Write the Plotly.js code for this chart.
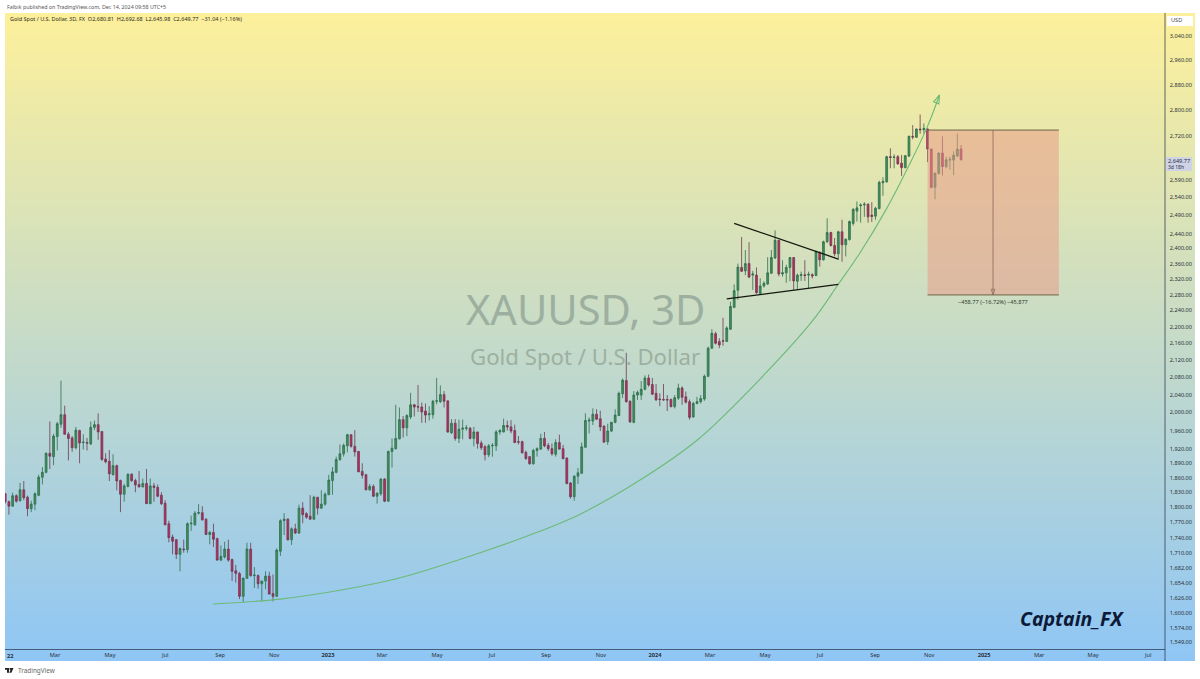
<!DOCTYPE html>
<html>
<head>
<meta charset="utf-8">
<script src="https://cdn.plot.ly/plotly-3.0.1.min.js"></script>
<style>
  html, body { margin: 0; padding: 0; background: #fff; }
</style>
</head>
<body>
<div id="chart" style="width:1200px;height:679px"></div>
<script>
// XAUUSD 3D candles, oldest first
const opens = [
1827,1811,1802,1823,1813,1835,1820,1797,1806,1824,
1861,1871,1911,1904,1947,1974,1995,1952,1944,1923,
1960,1934,1934,1931,1967,1973,1958,1899,1894,1866,
1885,1854,1826,1842,1867,1854,1846,1841,1848,1807,
1843,1840,1824,1808,1767,1741,1736,1708,1718,1717,
1767,1765,1788,1789,1776,1746,1750,1738,1697,1703,
1718,1698,1677,1672,1630,1663,1718,1668,1668,1653,
1658,1667,1635,1630,1714,1773,1776,1736,1757,1749,
1798,1787,1782,1776,1820,1798,1806,1825,1854,1871,
1898,1910,1927,1951,1926,1915,1873,1866,1835,1842,
1822,1827,1857,1812,1915,1921,1942,1984,1966,1990,
2017,2013,2012,2003,1995,1995,2025,2024,2040,2026,
1955,1976,1943,1963,1965,1965,1943,1957,1933,1925,
1908,1927,1927,1957,1957,1971,1968,1960,1936,1936,
1913,1904,1889,1917,1920,1943,1928,1921,1909,1934,
1921,1901,1849,1821,1863,1869,1924,1981,1981,1996,
1986,1970,1936,1959,1978,1993,2042,2072,2025,1978,
2039,2039,2052,2078,2063,2043,2030,2029,2029,2029,
2013,2032,2055,2035,2024,1990,2020,2024,2030,2082,
2148,2183,2164,2166,2164,2194,2248,2291,2350,2341,
2360,2330,2330,2283,2302,2307,2335,2375,2422,2333,
2336,2350,2376,2314,2329,2331,2330,2331,2329,2390,
2370,2418,2443,2408,2386,2445,2410,2424,2468,2502,
2517,2519,2521,2491,2488,2509,2582,2585,2658,2656,
2658,2639,2626,2660,2719,2716,2741,2739,2741,2681,
2569,2609,2669,2629,2648,2648,2660,2680.81];
const highs = [
1829,1813,1829,1826,1849,1853,1823,1813,1830,1866,
1882,1913,1980,1953,1979,2072,2015,1957,1948,1968,
1962,1952,1944,1980,1982,1998,1958,1911,1918,1909,
1887,1856,1847,1869,1869,1858,1874,1858,1878,1858,
1849,1846,1830,1814,1773,1746,1737,1721,1736,1770,
1783,1792,1806,1802,1778,1753,1767,1740,1725,1732,
1736,1700,1688,1675,1665,1730,1730,1684,1670,1658,
1676,1675,1670,1719,1776,1788,1778,1760,1767,1805,
1810,1790,1824,1823,1820,1834,1830,1866,1882,1904,
1930,1932,1953,1952,1961,1916,1890,1868,1847,1846,
1830,1859,1859,1917,1943,2017,2011,1992,1996,2044,
2019,2062,2022,2020,2014,2028,2078,2061,2048,2026,
1985,1985,1984,1984,1972,1968,1968,1957,1938,1929,
1931,1933,1961,1963,1986,1982,1983,1973,1948,1938,
1917,1905,1921,1924,1953,1957,1933,1932,1941,1951,
1929,1902,1851,1865,1880,1934,1998,1989,2009,2007,
2004,1971,1975,1979,2007,2047,2077,2137,2027,2048,
2049,2071,2084,2086,2078,2064,2043,2064,2039,2031,
2039,2065,2059,2047,2029,2024,2035,2039,2086,2152,
2194,2188,2172,2222,2201,2262,2306,2360,2431,2396,
2417,2341,2350,2322,2314,2377,2396,2449,2422,2369,
2357,2377,2377,2334,2339,2369,2339,2335,2395,2392,
2421,2482,2445,2428,2448,2478,2427,2476,2510,2529,
2524,2527,2524,2527,2514,2588,2598,2661,2683,2665,
2663,2663,2663,2721,2753,2743,2786,2758,2743,2681,
2610,2671,2719,2658,2658,2674,2727,2692.68];
const lows = [
1807,1785,1801,1809,1811,1814,1782,1790,1794,1822,
1846,1869,1878,1886,1917,1966,1952,1896,1914,1919,
1890,1919,1917,1929,1961,1940,1895,1890,1853,1865,
1834,1790,1811,1840,1851,1830,1840,1840,1807,1806,
1811,1820,1804,1764,1731,1708,1699,1676,1711,1711,
1753,1763,1785,1773,1745,1727,1722,1696,1695,1700,
1694,1658,1655,1625,1620,1662,1666,1645,1644,1621,
1643,1634,1621,1629,1705,1745,1734,1726,1747,1747,
1768,1777,1775,1775,1785,1797,1803,1825,1825,1869,
1895,1904,1913,1923,1904,1872,1858,1834,1833,1820,
1807,1823,1810,1811,1881,1919,1941,1945,1948,1985,
1991,2001,1977,1977,1982,1986,2018,2021,2011,1955,
1953,1938,1933,1941,1960,1941,1926,1921,1918,1896,
1903,1904,1916,1951,1956,1960,1954,1933,1930,1911,
1897,1887,1887,1904,1918,1924,1916,1906,1904,1919,
1898,1846,1817,1813,1847,1868,1923,1954,1972,1983,
1959,1933,1929,1957,1976,1992,2032,2022,1977,1976,
2028,2028,2050,2058,2039,2026,2014,2026,2003,2011,
2009,2028,2017,2020,1984,1988,2018,2020,2026,2080,
2146,2157,2148,2154,2164,2192,2246,2267,2338,2330,
2322,2292,2282,2282,2298,2305,2333,2372,2327,2326,
2310,2314,2292,2292,2315,2315,2296,2321,2327,2352,
2368,2415,2405,2379,2370,2365,2379,2421,2462,2473,
2470,2486,2470,2472,2478,2507,2545,2582,2624,2624,
2634,2602,2624,2657,2710,2714,2727,2727,2642,2566,
2535,2606,2603,2624,2620,2604,2658,2645.98];
const closes = [
1811,1802,1823,1812,1835,1819,1797,1806,1827,1861,
1871,1911,1905,1948,1975,1995,1952,1943,1923,1961,
1933,1935,1933,1967,1973,1957,1898,1893,1868,1885,
1853,1826,1843,1867,1854,1845,1841,1848,1807,1843,
1840,1822,1807,1765,1740,1733,1708,1719,1717,1767,
1768,1788,1789,1775,1746,1750,1737,1697,1704,1718,
1697,1676,1672,1630,1663,1718,1668,1669,1653,1658,
1667,1634,1630,1716,1773,1776,1736,1757,1749,1798,
1785,1780,1776,1820,1798,1806,1826,1855,1872,1898,
1910,1928,1951,1926,1914,1872,1865,1835,1842,1822,
1828,1857,1812,1915,1922,1943,1984,1966,1993,2017,
2012,2012,2001,1994,1997,2025,2026,2040,2025,1957,
1976,1943,1963,1965,1966,1943,1957,1932,1923,1908,
1927,1928,1957,1960,1971,1968,1959,1934,1935,1912,
1900,1889,1917,1921,1943,1927,1921,1910,1934,1920,
1900,1848,1821,1863,1870,1925,1982,1983,1996,1985,
1968,1935,1959,1978,1994,2043,2073,2024,1979,2039,
2045,2052,2078,2062,2041,2028,2029,2028,2028,2013,
2033,2055,2034,2023,1989,2020,2024,2031,2082,2148,
2184,2160,2156,2165,2197,2250,2290,2351,2340,2360,
2325,2333,2285,2302,2309,2336,2376,2422,2333,2336,
2350,2376,2315,2330,2331,2329,2332,2328,2392,2370,
2418,2443,2408,2386,2445,2410,2425,2473,2507,2511,
2519,2521,2486,2487,2510,2583,2586,2658,2656,2657,
2637,2626,2661,2719,2717,2741,2739,2743,2681,2569,
2610,2669,2629,2649,2650,2662,2680,2649.77];

// x axis is the bar number, tradingview skips weekends so dates are not even
const xTickBars = [13.4,28.2,43,57.8,72.3,86.8,101.3,116.1,130.9,145.4,160.2,174.7,189.5,204.3,219.1,233.9,248.4,263.2,278,292.5,307.3];
const xTickText = ['Mar','May','Jul','Sep','Nov','<b>2023</b>','Mar','May','Jul','Sep','Nov','<b>2024</b>','Mar','May','Jul','Sep','Nov','<b>2025</b>','Mar','May','Jul'];
const yTicks = [3040,2960,2880,2800,2720,2590,2540,2490,2440,2400,2360,2320,2280,2240,2200,2160,2120,2080,2040,2000,1960,1920,1890,1860,1830,1800,1770,1740,1710,1682,1654,1626,1600,1574,1549];

// drawings on the chart
const curveBars = [55.9,73.9,90,106.2,127.7,141.1,154.6,170.7,186,204,217.2,223.9,229.8,237.1,243.3,247.9,251.2];
const curvePrices = [1616,1625,1641,1664,1711,1745,1786,1855,1939,2085,2216,2305,2388,2511,2639,2747,2847];
const upperBars = [196,224], upperPrices = [2468,2372];
const lowerBars = [194,224], lowerPrices = [2269,2306];
const boxBars = [248,283.3], boxTop = 2738, boxBottom = 2279.2, boxMid = 265.6;

// bg gradient, drawn as heatmap so it sits under the candles
const xRange = [-0.05, 319.9];
const yRange = [3.18094, 3.49398];
const bgRows = [], bgZ = [];
for (let k = 0; k <= 40; k++) {
  bgRows.push(Math.pow(10, yRange[0] + (yRange[1] - yRange[0]) * k / 40));
  bgZ.push([k / 40, k / 40]);
}

const px = x => (x - 5) / 1190;
const py = y => (661 - y) / 648;

const darkLine = 'rgba(45,55,75,0.75)';
const axisFont = { family: 'Noto Sans, Open Sans, sans-serif', size: 5.6, color: '#2a2f38' };

const traces = [
  {
    type: 'heatmap', x: xRange, y: bgRows, z: bgZ, zmin: 0, zmax: 1, zsmooth: 'best',
    colorscale: [[0, '#8FC6F5'], [1, '#FDF09B']], showscale: false, hoverinfo: 'skip'
  },
  {
    type: 'candlestick', x: opens.map((_, i) => i),
    open: opens, high: highs, low: lows, close: closes,
    increasing: { line: { color: '#2F6F4C', width: 0.8 }, fillcolor: '#418F5C' },
    decreasing: { line: { color: '#6E3A52', width: 0.8 }, fillcolor: '#C4265F' },
    hoverinfo: 'skip'
  },
  { type: 'scatter', mode: 'lines', x: curveBars, y: curvePrices, line: { color: '#6CBA78', width: 1.1, shape: 'spline' }, hoverinfo: 'skip' },
  { type: 'scatter', mode: 'markers', x: [curveBars[curveBars.length - 1]], y: [curvePrices[curvePrices.length - 1]],
    marker: { symbol: 'arrow-open', size: 9, angle: 22, color: '#6CBA78', line: { color: '#6CBA78', width: 1.1 } }, hoverinfo: 'skip' },
  { type: 'scatter', mode: 'lines', x: upperBars, y: upperPrices, line: { color: '#15170f', width: 1.3 }, hoverinfo: 'skip' },
  { type: 'scatter', mode: 'lines', x: lowerBars, y: lowerPrices, line: { color: '#15170f', width: 1.3 }, hoverinfo: 'skip' },
  { type: 'scatter', mode: 'lines', x: [boxMid, boxMid], y: [boxTop, boxBottom], line: { color: '#3a3a36', width: 0.9 }, hoverinfo: 'skip' },
  { type: 'scatter', mode: 'markers', x: [boxMid], y: [boxBottom],
    marker: { symbol: 'arrow-open', size: 6, angle: 180, color: '#3a3a36', line: { color: '#3a3a36', width: 0.8 } }, hoverinfo: 'skip' }
];

const note = (x, y, text, size, color, extra) => Object.assign({
  xref: 'paper', yref: 'paper', x: px(x), y: py(y), text: text, showarrow: false,
  xanchor: 'center', yanchor: 'middle',
  font: { family: 'Noto Sans, sans-serif', size: size, color: color }
}, extra || {});

const layout = {
  width: 1200, height: 679,
  margin: { l: 5, r: 5, t: 13, b: 18, pad: 0 },
  paper_bgcolor: '#ffffff', plot_bgcolor: '#ffffff',
  showlegend: false,
  xaxis: {
    range: xRange, autorange: false, fixedrange: true, rangeslider: { visible: false },
    tickmode: 'array', tickvals: xTickBars, ticktext: xTickText, tickangle: 0,
    ticklabelposition: 'inside', ticks: '', showgrid: false, zeroline: false, showline: false,
    tickfont: axisFont
  },
  yaxis: {
    type: 'log', side: 'right', range: yRange, autorange: false, fixedrange: true,
    tickmode: 'array', tickvals: yTicks, tickformat: ',.2f',
    ticklabelposition: 'inside', ticks: '', showgrid: false, zeroline: false, showline: false,
    tickfont: axisFont
  },
  shapes: [
    // target box
    { type: 'rect', xref: 'x', yref: 'y', x0: boxBars[0], x1: boxBars[1], y0: boxBottom, y1: boxTop,
      fillcolor: 'rgba(232,155,137,0.54)', line: { width: 0 } },
    { type: 'line', xref: 'x', yref: 'y', x0: boxBars[0], x1: boxBars[1], y0: boxTop, y1: boxTop, line: { color: '#6e6546', width: 1 } },
    { type: 'line', xref: 'x', yref: 'y', x0: boxBars[0], x1: boxBars[1], y0: boxBottom, y1: boxBottom, line: { color: '#6e6546', width: 1 } },
    // scale borders
    { type: 'line', xref: 'paper', yref: 'paper', x0: px(1165), x1: px(1165), y0: 0, y1: 1, line: { color: darkLine, width: 1 } },
    { type: 'line', xref: 'paper', yref: 'paper', x0: 0, x1: px(1165), y0: py(649.5), y1: py(649.5), line: { color: darkLine, width: 1 } },
    // USD and last price boxes
    { type: 'rect', xref: 'paper', yref: 'paper', x0: px(1167), x1: px(1193), y0: py(26), y1: py(16), fillcolor: '#ffffff', line: { width: 0 } },
    { type: 'rect', xref: 'paper', yref: 'paper', x0: px(1166), x1: px(1192), y0: py(171), y1: py(157), fillcolor: '#CFD3E6', line: { width: 0 } },
    // tv logo
    { type: 'path', xref: 'paper', yref: 'paper', fillcolor: '#222', line: { width: 0 },
      path: `M${px(5)},${py(668)}L${px(9)},${py(668)}L${px(9)},${py(672.7)}L${px(7)},${py(672.7)}L${px(7)},${py(669.8)}L${px(5)},${py(669.8)}Z` },
    { type: 'path', xref: 'paper', yref: 'paper', fillcolor: '#222', line: { width: 0 },
      path: `M${px(9.6)},${py(668)}L${px(13.5)},${py(668)}L${px(11.4)},${py(672.7)}L${px(9.3)},${py(672.7)}L${px(10.6)},${py(669.8)}L${px(9.6)},${py(669.8)}Z` }
  ],
  annotations: [
    note(585, 309, 'XAUUSD, 3D', 41.6, '#9DB0A0'),
    note(585, 356, 'Gold Spot / U.S. Dollar', 22.2, '#9DB0A0'),
    note(5, 6.7, 'Falbik published on TradingView.com, Dec 14, 2024 09:58 UTC+5', 5.3, '#555', { xanchor: 'left' }),
    note(8, 19.4, 'Gold Spot / U.S. Dollar, 3D, FX&nbsp;&nbsp;O2,680.81&nbsp;&nbsp;H2,692.68&nbsp;&nbsp;L2,645.98&nbsp;&nbsp;C2,649.77&nbsp;&nbsp;−31.04 (−1.16%)', 5.5, '#2c2a1c', { xanchor: 'left' }),
    note(993, 301.5, '−458.77 (−16.72%) −45,877', 5.6, '#2f3a30'),
    note(1072, 618, '<b><i>Captain_FX</i></b>', 19.5, '#0c1a38'),
    note(1176, 20.5, 'USD', 5.6, '#444'),
    note(1179, 161, '2,649.77', 5.6, '#2b2f45'),
    note(1176, 167, '3d 18h', 5, '#2b2f45'),
    note(15.7, 670.7, 'TradingView', 6.4, '#666', { xanchor: 'left' }),
    // cut off 2022 label at the left edge, plotly drops it as a tick
    note(5, 655.5, '<b>22</b>', 5.6, '#2a2f38', { xanchor: 'left' })
  ]
};

Plotly.newPlot('chart', traces, layout, { displayModeBar: false, staticPlot: true });
</script>
</body>
</html>
